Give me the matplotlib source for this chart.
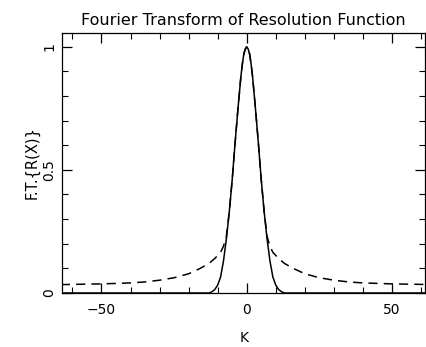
import numpy as np
import matplotlib.pyplot as plt
from matplotlib.ticker import MultipleLocator

# values
k_solid = [0, 0.5, 1, 1.5, 2, 3, 4, 5, 6, 7, 8, 9, 10, 11, 12, 13, 64]
v_solid = [1.0, 0.99, 0.97, 0.93, 0.88, 0.75, 0.61, 0.46, 0.33, 0.22, 0.13,
           0.065, 0.032, 0.014, 0.005, 0.0, 0.0]

k_dash = [0, 0.5, 1, 1.5, 2, 3, 4, 5, 6, 7, 8, 9, 11, 13, 16, 20, 25, 30,
          35, 40, 50, 60, 64]
v_dash = [1.0, 0.99, 0.97, 0.93, 0.88, 0.75, 0.61, 0.46, 0.33, 0.23, 0.19,
          0.165, 0.14, 0.12, 0.10, 0.078, 0.062, 0.052, 0.045, 0.041, 0.037,
          0.035, 0.034]


def mirror(k, v):
    k = np.array(k, dtype=float)
    v = np.array(v, dtype=float)
    return np.concatenate([-k[:0:-1], k]), np.concatenate([v[:0:-1], v])


ks, vs = mirror(k_solid, v_solid)
kd, vd = mirror(k_dash, v_dash)

fig = plt.figure(figsize=(4.26, 3.47), dpi=100)
ax = fig.add_axes([0.1455, 0.1556, 0.853, 0.749])

ax.plot(ks, vs, color='black', lw=1.1)
ax.plot(kd, vd, color='black', lw=1.1, dashes=(6, 4))

ax.set_xlim(-63.6, 61.5)
ax.set_ylim(0, 1.055)
ax.xaxis.set_major_locator(MultipleLocator(50))
ax.xaxis.set_minor_locator(MultipleLocator(10))
ax.yaxis.set_major_locator(MultipleLocator(0.5))
ax.yaxis.set_minor_locator(MultipleLocator(0.1))
ax.yaxis.set_major_formatter(plt.FuncFormatter(lambda y, p: '%g' % y))
ax.tick_params(which='both', direction='in', top=True, right=True,
               labelsize=10, color='black')
ax.tick_params(which='major', length=7, width=0.9)
ax.tick_params(which='minor', length=4, width=0.8)
ax.tick_params(axis='x', which='major', pad=7)
ax.tick_params(axis='y', which='major', pad=4, labelrotation=90)
for t in ax.get_yticklabels():
    t.set_verticalalignment('center')
for s in ax.spines.values():
    s.set_linewidth(0.9)

ax.set_title('Fourier Transform of Resolution Function', fontsize=11.5, pad=6)
ax.set_xlabel('K', fontsize=10, labelpad=10)
ax.set_ylabel('F.T.{R(X)}', fontsize=10.5, labelpad=2)

fig.savefig('out.png', dpi=100)
